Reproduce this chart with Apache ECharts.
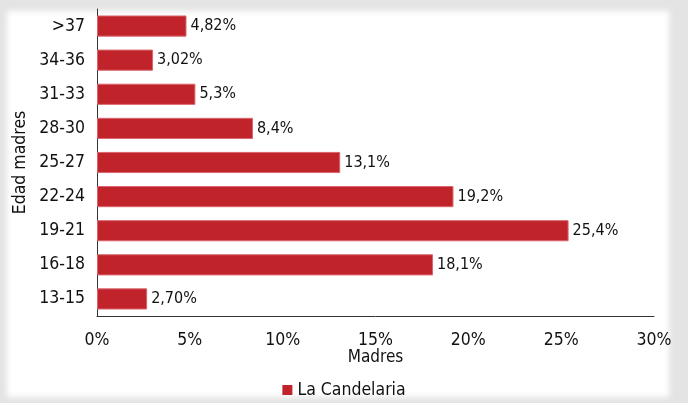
<!DOCTYPE html>
<html>
<head>
<meta charset="utf-8">
<script src="https://cdn.jsdelivr.net/npm/echarts@6/dist/echarts.min.js"></script>
<style>
	html,body{margin:0;padding:0;background:#e4e4e4;width:688px;height:403px;overflow:hidden}
	#panel{position:absolute;left:12px;top:16px;width:652px;height:376px;background:#fff;box-shadow:0 0 6px 5px #fff}
	#chart{position:absolute;left:0;top:0;width:688px;height:403px}
</style>
</head>
<body>
<div id="panel"></div>
<div id="chart"></div>
<script>
// age groups, bottom to top as drawn
const ageGroups=['13-15','16-18','19-21','22-24','25-27','28-30','31-33','34-36','>37']
const shares=[2.70,18.1,25.4,19.2,13.1,8.4,5.3,3.02,4.82]
const shareLabels=['2,70%','18,1%','25,4%','19,2%','13,1%','8,4%','5,3%','3,02%','4,82%']
const xTicks=[0,5,10,15,20,25,30]

const font='"DejaVu Sans Condensed", "DejaVu Sans", Verdana, sans-serif'
const chart=echarts.init(document.getElementById('chart'))
chart.setOption({
	backgroundColor:'transparent',
	animation:false,
	textStyle:{fontFamily:font},
	grid:{
		left:97,
		right:34,
		top:9,
		bottom:87
	},
	legend:{
		data:['La Candelaria'],
		top:376,
		left:'center',
		icon:'rect',
		itemWidth:10,
		itemHeight:10,
		itemGap:6,
		itemStyle:{borderWidth:0},
		textStyle:{fontFamily:font,fontSize:17.5,color:'#111'}
	},
	xAxis:{
		type:'value',
		min:xTicks[0],
		max:xTicks[xTicks.length-1],
		interval:5,
		name:'Madres',
		nameLocation:'middle',
		nameGap:33,
		nameMoveOverlap:false,
		nameTextStyle:{fontFamily:font,fontSize:17,color:'#111'},
		axisLine:{show:true,lineStyle:{color:'#333',width:1}},
		axisTick:{show:false},
		splitLine:{show:false},
		axisLabel:{
			margin:15,
			fontSize:17.5,
			color:'#111',
			formatter:v=>v+'%'
		}
	},
	yAxis:{
		type:'category',
		data:ageGroups,
		name:'Edad madres',
		nameLocation:'middle',
		nameGap:68,
		nameMoveOverlap:false,
		nameTextStyle:{fontFamily:font,fontSize:17.5,color:'#111'},
		axisLine:{show:true,lineStyle:{color:'#333',width:1}},
		axisTick:{show:false},
		axisLabel:{
			margin:12,
			fontSize:17.5,
			color:'#111'
		}
	},
	series:[
		{
			name:'La Candelaria',
			type:'bar',
			data:shares,
			barCategoryGap:'38%',
			itemStyle:{
				color:'#c1232b',
				borderColor:'#d9666c',
				borderWidth:1
			},
			label:{
				show:true,
				position:'right',
				distance:4,
				fontSize:16,
				color:'#111',
				fontFamily:font,
				formatter:p=>shareLabels[p.dataIndex]
			}
		}
	]
})
</script>
</body>
</html>
